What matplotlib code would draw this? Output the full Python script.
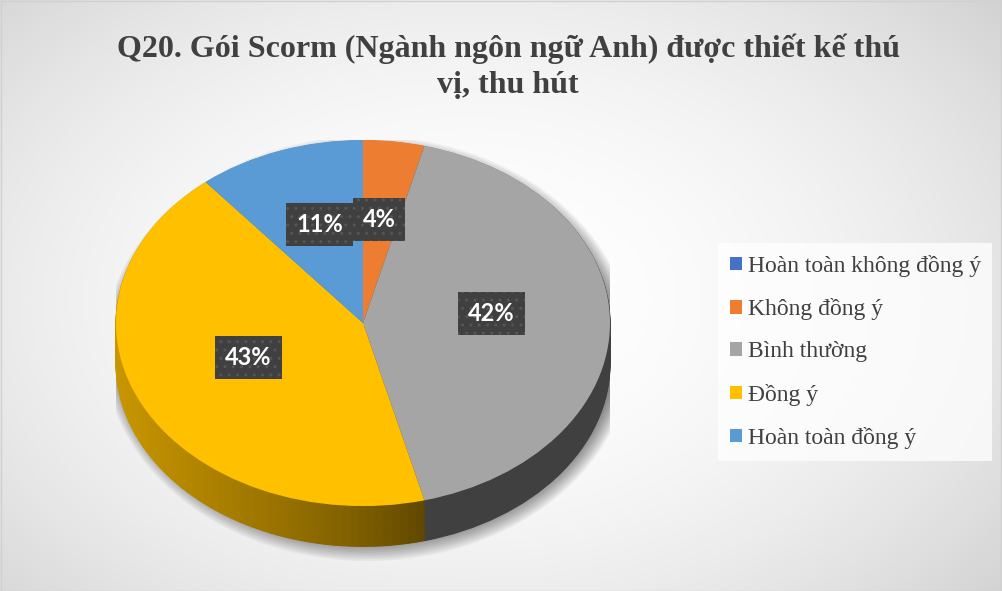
import numpy as np
import matplotlib.pyplot as plt
from matplotlib.patches import Ellipse, Rectangle
from matplotlib.colors import to_rgb

# data
categories = ['Hoàn toàn không đồng ý', 'Không đồng ý', 'Bình thường', 'Đồng ý', 'Hoàn toàn đồng ý']
percents = [0, 4, 42, 43, 11]
title = 'Q20. Gói Scorm (Ngành ngôn ngữ Anh) được thiết kế thú\nvị, thu hút'

top_colors = ['#4472C4', '#ED7D31', '#A5A5A5', '#FFC000', '#5B9BD5']
side_colors = ['#2F528F', '#A5501B', '#404040', None, '#2E75B6']  # None -> shaded yellow side

W, H = 1002, 591
fig = plt.figure(figsize=(W / 100, H / 100), dpi=100)

# soft radial background like the Excel chart area
bg = fig.add_axes([0, 0, 1, 1], zorder=-10)
yy, xx = np.mgrid[0:H, 0:W]
r = np.sqrt(((xx - 470) / 640) ** 2 + ((yy - 300) / 430) ** 2)
shade = 1 - 0.15 * np.clip(r, 0, 1.2) ** 2
bg.imshow(np.dstack([shade] * 3), extent=[0, W, H, 0], aspect='auto')
bg.set_xlim(0, W)
bg.set_ylim(H, 0)
bg.axis('off')
bg.add_patch(Rectangle((0.5, 0.5), W - 1, H - 1, fill=False, edgecolor='#d0d0d0', lw=1))

# pie axes: x -1..1 -> 116..610 px, y 1..-1 -> 140..506 px
ax = fig.add_axes([116 / W, 1 - 561 / H, 494 / W, 421 / H])
depth = 0.22

# soft shadow under the pie
for s in np.linspace(1, 0, 14):
    ax.add_patch(Ellipse((0.02, -0.14), 2 * (1 + 0.07 * s), 2 * (1.04 + 0.12 * s),
                         facecolor='black', edgecolor='none', alpha=0.045))

# side of the 3d pie: yellow slice split up only to shade it left->front
n_sub = 80
light, dark = np.array(to_rgb('#C89600')), np.array(to_rgb('#5E4600'))
start = sum(percents[:3]) / 100 * 360
side_vals, side_cols = [], []
for i, v in enumerate(percents):
    if side_colors[i] is None:
        for j in range(n_sub):
            t = np.radians(start + (j + 0.5) * v / n_sub * 3.6)
            f = np.clip((0.25 - np.sin(t)) / 1.25, 0, 1) ** 0.8
            side_vals.append(v / n_sub)
            side_cols.append(tuple(dark * (1 - f) + light * f))
    else:
        side_vals.append(v)
        side_cols.append(side_colors[i])

for d in np.linspace(depth, 0.005, 30):
    ws, _ = ax.pie(side_vals, colors=side_cols, startangle=90, counterclock=False,
                   center=(0, -d), wedgeprops=dict(linewidth=0.8))
    for w in ws:
        w.set_edgecolor(w.get_facecolor())

# top face
wedges, _, autotexts = ax.pie(
    percents, colors=top_colors, startangle=90, counterclock=False,
    autopct=lambda p: f'{p:.0f}%' if p > 0.5 else '', pctdistance=0.52,
    wedgeprops=dict(linewidth=0),
    textprops=dict(color='white', fontsize=17, fontweight='bold', family='Lato'))
for t in autotexts:
    x, y = t.get_position()
    t.set_position((x, y + 0.05))  # perspective: labels sit a bit higher
    t.set_bbox(dict(boxstyle='square,pad=0.42', facecolor='#404040',
                    edgecolor='#555555', linewidth=0, hatch='..'))

ax.set_aspect('auto')
ax.set_xlim(-1, 1)
ax.set_ylim(-1.3, 1)
ax.axis('off')

fig.text(0.507, 1 - 33 / H, title, ha='center', va='top', fontsize=23,
         fontweight='bold', family=['Liberation Serif'], color='#404040', linespacing=1.35)

leg = fig.legend(wedges, categories, loc='center left', bbox_to_anchor=(718 / W, 1 - 352 / H),
                 frameon=True, fancybox=False, facecolor='white', edgecolor='none', framealpha=0.75,
                 prop=dict(family='Liberation Serif', size=17), labelcolor='#404040',
                 handlelength=0.5, handleheight=0.5, handletextpad=0.25, labelspacing=0.9,
                 borderpad=0.5, borderaxespad=0)

fig.savefig('out.png', dpi=100)
